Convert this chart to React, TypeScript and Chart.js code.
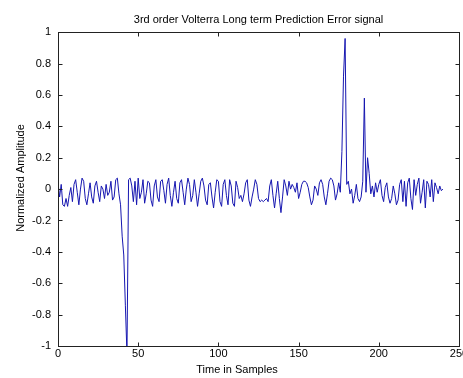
import { useEffect, useRef } from "react";
import { Chart, registerables } from "chart.js";

Chart.register(...registerables);

const chartTitle = "3rd order Volterra Long term Prediction Error signal";
const xAxisLabel = "Time in Samples";
const yAxisLabel = "Normalized Amplitude";
const xTickValues = [0, 50, 100, 150, 200, 250];
const yTickValues = [-1, -0.8, -0.6, -0.4, -0.2, 0, 0.2, 0.4, 0.6, 0.8, 1];

const errorSignal = [
  0.04, -0.05, 0.03, -0.10, -0.11, -0.06, -0.11, -0.04, 0.01, -0.08,
  0.03, 0.06, -0.02, -0.10, 0.00, 0.07, 0.05, -0.06, -0.10, -0.03,
  0.04, -0.05, -0.09, 0.02, 0.05, -0.02, -0.08, 0.02, 0.00, -0.06,
  0.03, -0.04, -0.02, 0.05, -0.07, -0.05, 0.06, 0.07, -0.03, -0.10,
  -0.30, -0.42, -0.74, -1.05, 0.06, 0.07, 0.02, -0.08, 0.05, -0.10,
  0.07, -0.06, -0.02, 0.06, -0.09, -0.03, 0.05, 0.04, -0.07, -0.11,
  0.02, 0.06, -0.05, -0.08, 0.05, 0.06, -0.01, -0.09, 0.03, 0.07,
  -0.04, -0.11, -0.02, 0.05, -0.06, -0.09, 0.04, 0.06, -0.02, -0.10,
  0.00, 0.07, 0.03, -0.08, -0.04, 0.06, -0.02, -0.11, -0.03, 0.05,
  0.07, 0.02, -0.07, -0.10, 0.03, 0.04, -0.05, -0.12, -0.02, 0.06,
  0.05, -0.08, -0.11, 0.03, 0.06, -0.04, -0.10, 0.06, 0.02, -0.09,
  -0.11, 0.05, 0.01, -0.06, -0.04, -0.08, -0.03, 0.04, 0.06, -0.07,
  -0.11, -0.05, 0.00, 0.06, 0.03, -0.06, -0.08, -0.07, -0.08, -0.07,
  -0.06, -0.08, 0.02, 0.06, -0.04, -0.12, -0.03, 0.05, -0.06, -0.15,
  -0.05, 0.06, 0.02, -0.04, 0.05, 0.00, 0.03, 0.01, -0.02, 0.04,
  -0.06, -0.02, 0.03, 0.05, 0.05, 0.04, 0.01, -0.05, -0.10, -0.07,
  0.02, 0.00, -0.04, 0.04, 0.06, 0.03, -0.05, -0.10, -0.03, 0.05,
  0.07, 0.06, 0.02, -0.07, -0.03, 0.04, -0.02, 0.24, 0.72, 0.96,
  0.03, 0.05, -0.03, 0.00, -0.09, -0.04, 0.03, -0.06, -0.08, -0.05,
  0.05, 0.58, -0.02, 0.20, 0.10, -0.03, 0.02, -0.05, 0.04, -0.02,
  0.03, 0.06, -0.04, -0.08, 0.01, 0.04, -0.05, -0.09, -0.06, 0.02,
  -0.03, -0.10, -0.07, 0.03, 0.06, -0.08, 0.05, -0.11, 0.04, 0.07,
  -0.06, -0.13, 0.06, -0.04, 0.03, 0.07, -0.09, -0.02, 0.06, -0.12,
  0.05, 0.03, -0.05, 0.06, -0.08, 0.04, 0.01, -0.03, 0.02, -0.01,
  0.00,
];

const FONT = '"Liberation Sans", Arial, sans-serif';

const framePlugin = {
  id: "matlabFrame",
  afterDraw(chart: any) {
    const { ctx, chartArea: a, scales } = chart;
    ctx.save();
    ctx.strokeStyle = "#222";
    ctx.lineWidth = 1;
    const l = Math.round(a.left) + 0.5;
    const t = Math.round(a.top) + 0.5;
    const r = Math.round(a.right) + 0.5;
    const b = Math.round(a.bottom) + 0.5;
    ctx.strokeRect(l, t, r - l, b - t);
    const L = 4;
    ctx.beginPath();
    for (const v of xTickValues) {
      const px = Math.round(scales.x.getPixelForValue(v)) + 0.5;
      ctx.moveTo(px, b);
      ctx.lineTo(px, b - L);
      ctx.moveTo(px, t);
      ctx.lineTo(px, t + L);
    }
    for (const v of yTickValues) {
      const py = Math.round(scales.y.getPixelForValue(v)) + 0.5;
      ctx.moveTo(l, py);
      ctx.lineTo(l + L, py);
      ctx.moveTo(r, py);
      ctx.lineTo(r - L, py);
    }
    ctx.stroke();
    ctx.fillStyle = "#000";
    ctx.font = "11px " + FONT;
    ctx.textAlign = "center";
    ctx.textBaseline = "middle";
    ctx.fillText(xAxisLabel, 237, 370);
    ctx.translate(21, 178);
    ctx.rotate(-Math.PI / 2);
    ctx.fillText(yAxisLabel, 0, 0);
    ctx.restore();
  },
};

export default function App() {
  const ref = useRef<HTMLCanvasElement | null>(null);

  useEffect(() => {
    document.body.style.margin = "0";
    const canvas = ref.current;
    if (!canvas) return;
    const chart = new Chart(canvas, {
      type: "line",
      data: {
        datasets: [
          {
            data: errorSignal.map((v, i) => ({ x: i, y: v })),
            borderColor: "#1616b0",
            borderWidth: 1,
            pointRadius: 0,
            tension: 0,
            fill: false,
          },
        ],
      },
      options: {
        animation: false,
        responsive: false,
        events: [],
        layout: { padding: { left: 0, right: 21, top: 0, bottom: 0 } },
        plugins: {
          legend: { display: false },
          tooltip: { enabled: false },
          title: {
            display: true,
            text: chartTitle,
            fullSize: false,
            color: "#000",
            font: { family: FONT, size: 11, weight: "normal" },
            padding: { top: 13, bottom: 6 },
          },
        },
        scales: {
          x: {
            type: "linear",
            min: 0,
            max: 250,
            afterFit(s: any) {
              s.height = 32;
            },
            afterBuildTicks(s: any) {
              s.ticks = xTickValues.map((v) => ({ value: v }));
            },
            grid: { display: false, drawTicks: false },
            border: { display: false },
            ticks: {
              color: "#000",
              font: { family: FONT, size: 11 },
              padding: 1,
              maxRotation: 0,
              callback: (v: any) => String(v),
            },
          },
          y: {
            type: "linear",
            min: -1,
            max: 1,
            afterFit(s: any) {
              s.width = 58;
            },
            afterBuildTicks(s: any) {
              s.ticks = yTickValues.map((v) => ({ value: v }));
            },
            grid: { display: false, drawTicks: false },
            border: { display: false },
            ticks: {
              color: "#000",
              font: { family: FONT, size: 11 },
              padding: 7,
              callback: (v: any) => String(Number(Number(v).toFixed(1))),
            },
          },
        },
      },
      plugins: [framePlugin],
    } as any);
    return () => chart.destroy();
  }, []);

  return (
    <div style={{ width: 463, height: 378, overflow: "hidden", background: "#fff" }}>
      <canvas ref={ref} width={480} height={378} style={{ display: "block" }} />
    </div>
  );
}
